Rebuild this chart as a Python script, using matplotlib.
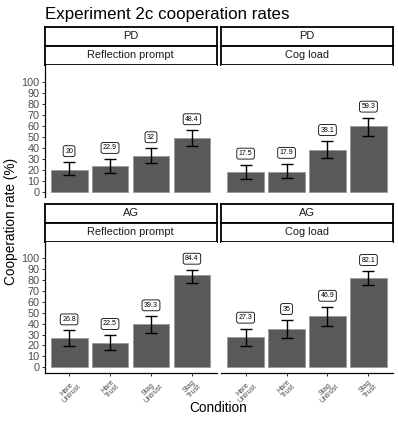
import matplotlib
matplotlib.use("Agg")
import matplotlib.pyplot as plt
import numpy as np

plt.rcParams['font.family'] = ['Liberation Sans', 'DejaVu Sans']

# --- data ---
conditions = ['Hare\nUntrust', 'Hare\nTrust', 'Stag\nUntrust', 'Stag\nTrust']
games = ['PD', 'PD', 'AG', 'AG']
prompts = ['Reflection prompt', 'Cog load', 'Reflection prompt', 'Cog load']

pd_reflect = [20, 22.9, 32, 48.4]
pd_reflect_lo = [14.8, 17.3, 25.8, 41.5]
pd_reflect_hi = [26.7, 29.7, 39.4, 55.8]

pd_cog = [17.5, 17.9, 38.1, 59.3]
pd_cog_lo = [11.8, 12.1, 30.9, 50.6]
pd_cog_hi = [24.5, 25.2, 46.0, 67.3]

ag_reflect = [26.8, 22.5, 39.3, 84.4]
ag_reflect_lo = [19.6, 15.9, 31.8, 77.7]
ag_reflect_hi = [33.9, 29.7, 46.8, 89.6]

ag_cog = [27.3, 35, 46.9, 82.1]
ag_cog_lo = [19.6, 26.9, 37.9, 75.5]
ag_cog_hi = [35.5, 43.4, 55.6, 88.4]

rates = [pd_reflect, pd_cog, ag_reflect, ag_cog]
lows = [pd_reflect_lo, pd_cog_lo, ag_reflect_lo, ag_cog_lo]
highs = [pd_reflect_hi, pd_cog_hi, ag_reflect_hi, ag_cog_hi]

W, H = 398, 430
fig = plt.figure(figsize=(W / 100, H / 100), dpi=100)

def px_axes(x0, y0, x1, y1):
    # pixel box (top-left origin) -> figure axes
    return fig.add_axes([x0 / W, 1 - y1 / H, (x1 - x0) / W, (y1 - y0) / H])

cols = [(44.5, 216.5), (221, 393)]
rows = [(26.7, 45.7, 65, 197), (204, 222.7, 241.7, 372.7)]

bar_fill = '#595959'
tick_col = '#4d4d4d'
x = np.arange(len(conditions))

for k in range(4):
    r, c = divmod(k, 2)
    cx0, cx1 = cols[c]
    s0, s1, p0, p1 = rows[r]

    # strips
    for (ya, yb, txt) in [(s0, s1, games[k]), (s1, p0, prompts[k])]:
        sa = px_axes(cx0, ya, cx1, yb)
        sa.set_xticks([]); sa.set_yticks([])
        for sp in sa.spines.values():
            sp.set_linewidth(1.3)
            sp.set_color('black')
        sa.text(0.5, 0.5, txt, ha='center', va='center', fontsize=7.9,
                color='#1a1a1a', transform=sa.transAxes)

    ax = px_axes(cx0, p0, cx1, p1)
    vals = np.array(rates[k])
    lo = np.array(lows[k])
    hi = np.array(highs[k])
    ax.bar(x, vals, width=0.9, color=bar_fill, edgecolor='#9a9a9a', linewidth=0.6, zorder=2)
    ax.errorbar(x, vals, yerr=[vals - lo, hi - vals], fmt='none', ecolor='black',
                elinewidth=1.0, capsize=4, capthick=1.0, zorder=3)
    for xi, v, h in zip(x, vals, hi):
        ax.text(xi, h + 10, f"{v:g}", ha='center', va='center', fontsize=5,
                bbox=dict(boxstyle='round,pad=0.28,rounding_size=0.3', fc='white',
                          ec='black', lw=0.6), zorder=4)

    ax.set_xlim(-0.6, 3.6)
    ax.set_ylim(-5.0, 115.2)
    for sp in ['top', 'right']:
        ax.spines[sp].set_visible(False)
    ax.spines['left'].set_visible(c == 0)
    ax.spines['bottom'].set_visible(r == 1)
    for sp in ['left', 'bottom']:
        ax.spines[sp].set_linewidth(0.9)

    if c == 0:
        ax.set_yticks(np.arange(0, 101, 10))
        ax.tick_params(axis='y', length=2.5, width=0.7, pad=1, labelsize=7.8,
                       labelcolor=tick_col, color='#333333')
    else:
        ax.set_yticks([])
    if r == 1:
        ax.set_xticks(x)
        ax.set_xticklabels(conditions, rotation=45, ha='center', va='top',
                           multialignment='center', fontsize=5.2, color=tick_col,
                           linespacing=1.0)
        ax.tick_params(axis='x', length=2.5, width=0.7, pad=1.5, color='#333333')
    else:
        ax.set_xticks([])

fig.text(45 / W, 1 - 14 / H, 'Experiment 2c cooperation rates', ha='left', va='center',
         fontsize=12.2)
fig.text(11 / W, 1 - 221 / H, 'Cooperation rate (%)', rotation=90, ha='center',
         va='center', fontsize=9.8)
fig.text(218.5 / W, 1 - 408 / H, 'Condition', ha='center', va='center', fontsize=9.8)

fig.savefig('out.png', dpi=100, facecolor='white')
